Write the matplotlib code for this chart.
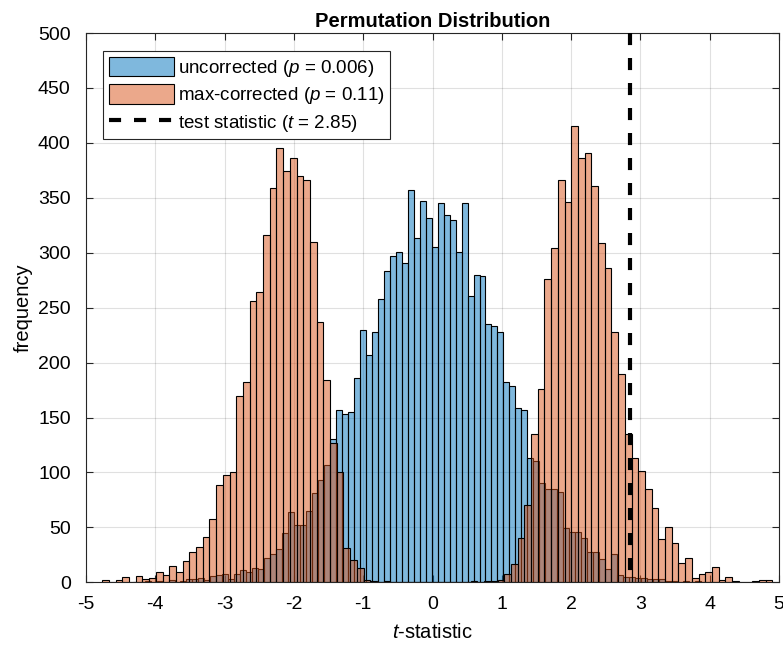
import numpy as np
import matplotlib
matplotlib.use("Agg")
import matplotlib.pyplot as plt
from matplotlib.patches import Patch
from matplotlib.lines import Line2D

plt.rcParams["font.family"] = ["Liberation Sans", "DejaVu Sans"]
plt.rcParams["mathtext.fontset"] = "custom"
plt.rcParams["mathtext.rm"] = "Liberation Sans"
plt.rcParams["mathtext.it"] = "Liberation Sans:italic"
plt.rcParams["axes.unicode_minus"] = False

# uncorrected permutation t-statistics (histogram counts)
uncorr_start = -4.327
uncorr_width = 0.0863
uncorr_counts = [
    0, 0, 1, 0, 1, 0, 2, 0, 1, 3,
    3, 4, 2, 6, 7, 8, 3, 8, 11, 9,
    13, 12, 22, 26, 30, 45, 64, 52, 52, 65,
    81, 93, 107, 130, 157, 153, 155, 186, 230, 207,
    228, 258, 283, 297, 301, 291, 357, 313, 347, 332,
    305, 345, 334, 330, 301, 345, 261, 280, 279, 235,
    233, 228, 182, 179, 159, 157, 113, 110, 90, 85,
    85, 82, 49, 46, 46, 40, 28, 28, 21, 12,
    26, 7, 5, 5, 4, 4, 3, 3, 3, 1,
    1, 0, 1, 0, 1, 0, 0, 0, 0, 0,
]

# max-corrected permutation t-statistics
maxcorr_start = -4.765
maxcorr_width = 0.09668
maxcorr_counts = [
    2, 0, 2, 5, 0, 6, 3, 4, 9, 7,
    15, 9, 19, 28, 32, 41, 58, 89, 98, 100,
    170, 182, 256, 264, 316, 359, 395, 374, 386, 370,
    366, 310, 237, 184, 127, 100, 31, 20, 13, 2,
    1, 0, 1, 0, 0, 0, 0, 0, 0, 0,
    0, 0, 0, 0, 0, 1, 0, 1, 1, 2,
    8, 17, 40, 70, 135, 176, 276, 304, 366, 346,
    415, 386, 391, 361, 309, 286, 228, 190, 135, 113,
    101, 85, 68, 39, 50, 36, 18, 22, 4, 8,
    9, 14, 2, 5, 1, 0, 0, 1, 2, 2,
]

t_obs = 2.85
p_uncorr = 0.006
p_maxcorr = 0.11

blue = (0.0, 0.447, 0.741)
orange = (0.85, 0.325, 0.098)
face_alpha = 0.5
axcol = (0.15, 0.15, 0.15)
dash = (0, (2.9, 3.1))

fig = plt.figure(figsize=(7.83, 6.49), dpi=100)
ax = fig.add_axes([86 / 783, 66.7 / 649, 693 / 783, 549.3 / 649])

uncorr_edges = uncorr_start + uncorr_width * np.arange(len(uncorr_counts))
maxcorr_edges = maxcorr_start + maxcorr_width * np.arange(len(maxcorr_counts))

ax.bar(uncorr_edges, uncorr_counts, width=uncorr_width, align="edge",
       facecolor=(*blue, face_alpha), edgecolor="k", linewidth=0.8, zorder=2)
ax.bar(maxcorr_edges, maxcorr_counts, width=maxcorr_width, align="edge",
       facecolor=(*orange, face_alpha), edgecolor="k", linewidth=0.8, zorder=3)

ax.set_xlim(-5, 5)
ax.set_ylim(0, 500)
# draw the test statistic line from the top so the dash pattern starts there
ax.plot([t_obs, t_obs], [500, 0], color="k", linestyle=dash, linewidth=3,
        zorder=4, clip_on=False)

ax.set_xticks(np.arange(-5, 6, 1))
ax.set_yticks(np.arange(0, 501, 50))
ax.grid(True, color="k", alpha=0.12, linewidth=0.8)
ax.set_axisbelow(True)
ax.tick_params(direction="in", top=True, right=True, length=5, width=0.8,
               labelsize=14, colors=axcol, labelcolor="k")
ax.tick_params(axis="y", pad=11)
ax.tick_params(axis="x", pad=10)
for s in ax.spines.values():
    s.set_color(axcol)
    s.set_linewidth(0.8)

ax.set_xlabel(r"$\mathit{t}$-statistic", fontsize=14.5, color="k", labelpad=7)
ax.set_ylabel("frequency", fontsize=14.5, color="k", labelpad=4)
ax.set_title("Permutation Distribution", fontsize=14.5, fontweight="bold", pad=4)

handles = [
    Patch(facecolor=(*blue, face_alpha), edgecolor="k", linewidth=0.8),
    Patch(facecolor=(*orange, face_alpha), edgecolor="k", linewidth=0.8),
    Line2D([], [], color="k", linestyle=dash, linewidth=3),
]
labels = [
    r"uncorrected ($\mathit{p}$ = %s)" % p_uncorr,
    r"max-corrected ($\mathit{p}$ = %s)" % p_maxcorr,
    r"test statistic ($\mathit{t}$ = %s)" % t_obs,
]
leg = ax.legend(handles, labels, loc="upper left", bbox_to_anchor=(0.0245, 0.967),
                borderaxespad=0, fontsize=13.5, fancybox=False, framealpha=1,
                edgecolor=axcol, handlelength=3.5, handleheight=1.2,
                handletextpad=0.2, labelspacing=0.3, borderpad=0.3)
leg.get_frame().set_linewidth(0.8)

fig.savefig("out.png", dpi=100)
